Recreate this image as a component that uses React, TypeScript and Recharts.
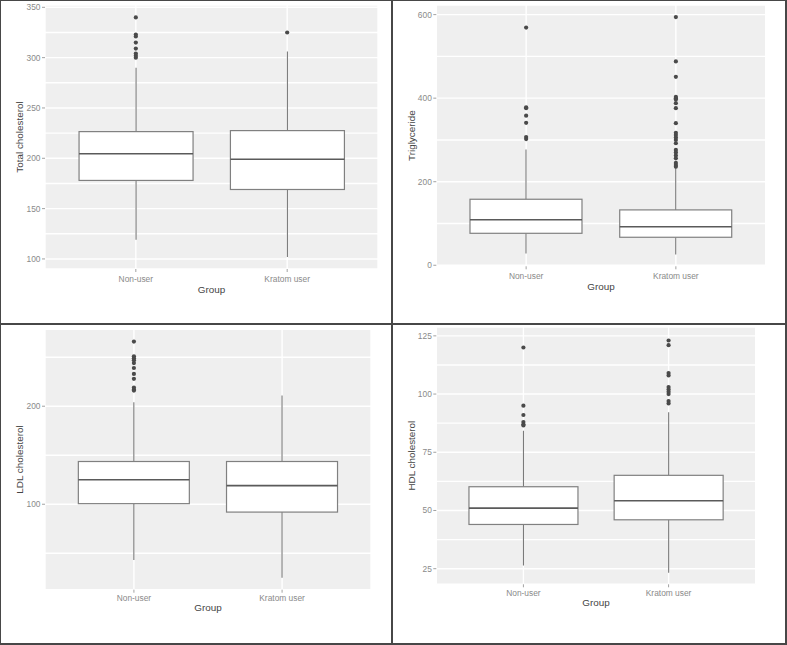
import { ComposedChart, Bar, Scatter, XAxis, YAxis, CartesianGrid, Label } from 'recharts'

const groups = ['Non-user', 'Kratom user']

// Total cholesterol
const tcLow = [119, 102]
const tcQ1 = [178, 169]
const tcMedian = [204.5, 199]
const tcQ3 = [226.5, 227.5]
const tcHigh = [290, 306]
const tcOutNon = [340, 323, 321, 315, 309, 304, 302, 300]
const tcOutKratom = [325]
const tcMajor = [100, 150, 200, 250, 300, 350]
const tcMinor = [125, 175, 225, 275, 325]

// Triglyceride
const tgLow = [28, 26]
const tgQ1 = [76.5, 67]
const tgMedian = [109, 92]
const tgQ3 = [158, 132.5]
const tgHigh = [277, 233]
const tgOutNon = [569, 378, 376, 358, 341, 307, 302]
const tgOutKratom = [594, 488, 451, 403, 400, 397, 388, 376, 340, 317, 312, 306, 300, 292, 276, 270, 263, 256, 245, 240, 236]
const tgMajor = [0, 200, 400, 600]
const tgMinor = [100, 300, 500]

// LDL cholesterol
const ldlLow = [43, 25]
const ldlQ1 = [100.6, 92]
const ldlMedian = [125, 119]
const ldlQ3 = [143.6, 143.6]
const ldlHigh = [204, 211]
const ldlOutNon = [266, 251, 249, 247, 244, 239, 233, 228, 219, 217, 216]
const ldlOutKratom: number[] = []
const ldlMajor = [100, 200]
const ldlMinor = [50, 150, 250]

// HDL cholesterol
const hdlLow = [26.4, 23.3]
const hdlQ1 = [44, 46]
const hdlMedian = [51, 54.2]
const hdlQ3 = [60.2, 65.1]
const hdlHigh = [84.2, 92.2]
const hdlOutNon = [120, 95, 91, 88, 87, 86.5]
const hdlOutKratom = [123, 121, 109, 108, 103, 102, 101, 100, 97, 96]
const hdlMajor = [25, 50, 75, 100, 125]
const hdlMinor = [37.5, 62.5, 87.5, 112.5]

const FONT = '"Liberation Sans", Arial, sans-serif'

function buildRows(low: number[], q1: number[], med: number[], q3: number[], high: number[]) {
  return groups.map((g, i) => ({ group: g, low: low[i], q1: q1[i], median: med[i], q3: q3[i], high: high[i] }))
}

function buildOutliers(non: number[], kratom: number[]) {
  return [
    ...non.map(v => ({ group: groups[0], value: v })),
    ...kratom.map(v => ({ group: groups[1], value: v })),
  ]
}

interface Layout {
  x: number; y: number; w: number; h: number
  left: number; right: number; top: number; bottom: number
  titleX: number; groupBase: number; tickBase: number
}

const BoxShape = (props: any) => {
  const { x, y, width, height, payload } = props
  const top = Math.min(y, y + height)
  const bot = Math.max(y, y + height)
  const lo = payload.low
  const hi = payload.high
  const px = (v: number) => bot - ((bot - top) * (v - lo)) / (hi - lo)
  const cx = x + width / 2
  return (
    <g>
      <line x1={cx} x2={cx} y1={px(hi)} y2={px(payload.q3)} stroke="#7a7a7a" strokeWidth={1.1} />
      <line x1={cx} x2={cx} y1={px(payload.q1)} y2={px(lo)} stroke="#7a7a7a" strokeWidth={1.1} />
      <rect x={x} y={px(payload.q3)} width={width} height={px(payload.q1) - px(payload.q3)}
        fill="#ffffff" stroke="#808080" strokeWidth={1.2} />
      <line x1={x} x2={x + width} y1={px(payload.median)} y2={px(payload.median)} stroke="#5a5a5a" strokeWidth={1.6} />
    </g>
  )
}

const OutlierDot = (props: any) => <circle cx={props.cx} cy={props.cy} r={2.1} fill="#4a4a4a" />

function BoxPanel({ layout, title, rows, outliers, domain, major, minor }: {
  layout: Layout; title: string; rows: any[]; outliers: any[]
  domain: [number, number]; major: number[]; minor: number[]
}) {
  const L = layout.left - layout.x
  const R = layout.x + layout.w - layout.right
  const T = layout.top - layout.y
  const B = layout.bottom - layout.y
  const plotW = layout.right - layout.left
  const pad = plotW * (0.5 - 1 / 2.2)
  const ticks = [...major, ...minor].sort((a, b) => a - b)
  const midY = (T + B) / 2
  const titleX = layout.titleX - layout.x

  const YTick = (p: any) => {
    if (!major.includes(p.payload.value)) return <g />
    return (
      <g>
        <line x1={L - 3} x2={L} y1={p.y} y2={p.y} stroke="#8a8a8a" strokeWidth={0.8} />
        <text x={L - 4.5} y={p.y} dy="0.35em" textAnchor="end" fontSize={8.4} fontFamily={FONT} fill="#8a8a8a">
          {p.payload.value}
        </text>
      </g>
    )
  }

  const XTick = (p: any) => (
    <g>
      <line x1={p.x} x2={p.x} y1={B} y2={B + 3} stroke="#8a8a8a" strokeWidth={0.8} />
      <text x={p.x} y={layout.tickBase - layout.y} textAnchor="middle" fontSize={8.4} fontFamily={FONT} fill="#8a8a8a">
        {p.payload.value}
      </text>
    </g>
  )

  return (
    <div style={{ position: 'absolute', left: layout.x, top: layout.y }}>
      <ComposedChart width={layout.w} height={layout.h} data={rows}
        margin={{ top: T, right: R, bottom: 0, left: 0 }} barCategoryGap="12.5%">
        <CartesianGrid stroke="#ffffff" strokeWidth={1.4} fill="#efefef" />
        <XAxis dataKey="group" type="category" allowDuplicatedCategory={false}
          padding={{ left: pad, right: pad }} height={layout.h - B}
          axisLine={false} tickLine={false} tick={XTick} interval={0}>
          <Label content={() => (
            <text x={L + plotW / 2} y={layout.groupBase - layout.y} textAnchor="middle"
              fontSize={9.9} fontFamily={FONT} fill="#444444">Group</text>
          )} />
        </XAxis>
        <YAxis type="number" domain={domain} ticks={ticks} interval={0} width={L}
          axisLine={false} tickLine={false} tick={YTick} allowDataOverflow>
          <Label content={() => (
            <text transform={`translate(${titleX}, ${midY}) rotate(-90)`} dy="0.35em" textAnchor="middle"
              fontSize={9.9} fontFamily={FONT} fill="#444444">{title}</text>
          )} />
        </YAxis>
        <Bar dataKey={(d: any) => [d.low, d.high]} shape={BoxShape} isAnimationActive={false} />
        <Scatter data={outliers} dataKey="value" shape={OutlierDot} isAnimationActive={false} />
      </ComposedChart>
    </div>
  )
}

const layouts: Layout[] = [
  { x: 0, y: 0, w: 392, h: 323, left: 45, right: 378, top: 5, bottom: 269, titleX: 20, groupBase: 293, tickBase: 282 },
  { x: 393, y: 0, w: 394, h: 323, left: 436.3, right: 765.7, top: 5, bottom: 266.3, titleX: 411.7, groupBase: 290, tickBase: 279 },
  { x: 0, y: 325, w: 392, h: 320, left: 45, right: 371, top: 329.3, bottom: 589.7, titleX: 20, groupBase: 611, tickBase: 601.3 },
  { x: 393, y: 325, w: 394, h: 320, left: 436.3, right: 755.7, top: 327, bottom: 584.3, titleX: 411.8, groupBase: 606.3, tickBase: 596 },
]

const lineColor = '#474747'

export default function App() {
  return (
    <div style={{ position: 'absolute', left: 0, top: 0, width: 787, height: 645, background: '#ffffff', overflow: 'hidden' }}>
      <BoxPanel layout={layouts[0]} title="Total cholesterol"
        rows={buildRows(tcLow, tcQ1, tcMedian, tcQ3, tcHigh)} outliers={buildOutliers(tcOutNon, tcOutKratom)}
        domain={[90, 352.3]} major={tcMajor} minor={tcMinor} />
      <BoxPanel layout={layouts[1]} title="Triglyceride"
        rows={buildRows(tgLow, tgQ1, tgMedian, tgQ3, tgHigh)} outliers={buildOutliers(tgOutNon, tgOutKratom)}
        domain={[-2.5, 623]} major={tgMajor} minor={tgMinor} />
      <BoxPanel layout={layouts[2]} title="LDL cholesterol"
        rows={buildRows(ldlLow, ldlQ1, ldlMedian, ldlQ3, ldlHigh)} outliers={buildOutliers(ldlOutNon, ldlOutKratom)}
        domain={[12.8, 278.5]} major={ldlMajor} minor={ldlMinor} />
      <BoxPanel layout={layouts[3]} title="HDL cholesterol"
        rows={buildRows(hdlLow, hdlQ1, hdlMedian, hdlQ3, hdlHigh)} outliers={buildOutliers(hdlOutNon, hdlOutKratom)}
        domain={[18.3, 128.8]} major={hdlMajor} minor={hdlMinor} />
      <div style={{ position: 'absolute', left: 0, top: 0, width: 786, height: 1, background: lineColor }} />
      <div style={{ position: 'absolute', left: 0, top: 0, width: 1, height: 645, background: lineColor }} />
      <div style={{ position: 'absolute', left: 785, top: 0, width: 2, height: 645, background: lineColor }} />
      <div style={{ position: 'absolute', left: 0, top: 643, width: 787, height: 2, background: lineColor }} />
      <div style={{ position: 'absolute', left: 391, top: 0, width: 2, height: 645, background: lineColor }} />
      <div style={{ position: 'absolute', left: 0, top: 323, width: 787, height: 2, background: lineColor }} />
    </div>
  )
}
